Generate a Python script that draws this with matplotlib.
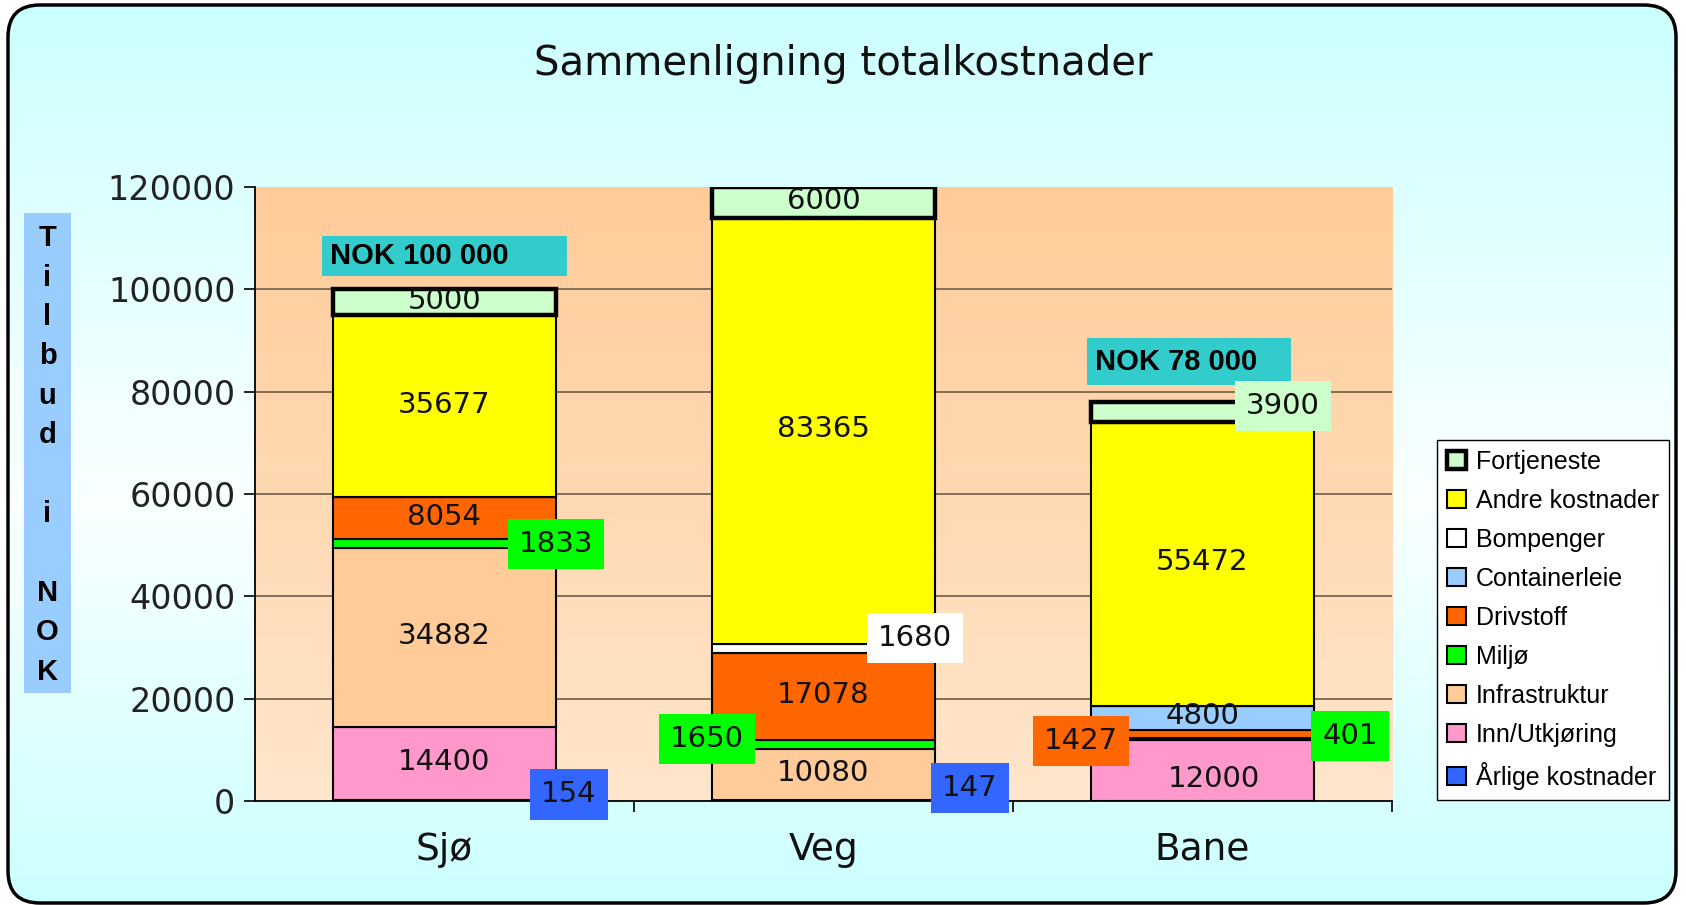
import matplotlib.pyplot as plt
import numpy as np
from matplotlib.colors import LinearSegmentedColormap
from matplotlib.patches import FancyBboxPatch, Rectangle

# data (NOK)
categories = ['Sjø', 'Veg', 'Bane']
series_names = ['Årlige kostnader', 'Inn/Utkjøring', 'Infrastruktur', 'Miljø', 'Drivstoff',
                'Containerleie', 'Bompenger', 'Andre kostnader', 'Fortjeneste']
arlige = [154, 147, 0]
inn_ut = [14400, 0, 12000]
infrastruktur = [34882, 10080, 0]
miljo = [1833, 1650, 401]
drivstoff = [8054, 17078, 1427]
containerleie = [0, 0, 4800]
bompenger = [0, 1680, 0]
andre = [35677, 83365, 55472]
fortjeneste = [5000, 6000, 3900]
offer_labels = ['NOK 100 000', None, 'NOK 78 000']
yticks = [0, 20000, 40000, 60000, 80000, 100000, 120000]

series_values = [arlige, inn_ut, infrastruktur, miljo, drivstoff,
                 containerleie, bompenger, andre, fortjeneste]
colors = ['#3366FF', '#FF99CC', '#FFCC99', '#00FF00', '#FF6600',
          '#99CCFF', '#FFFFFF', '#FFFF00', '#CCFFCC']

# label placement for small segments: (bar, series) -> (dx, dy, boxed)
label_place = {
    (0, 3): (0.294, -200, True),
    (0, 0): (0.328, 1200, True),
    (1, 6): (0.241, 2100, True),
    (1, 3): (-0.307, 1100, True),
    (1, 0): (0.387, 2470, True),
    (2, 8): (0.212, 1080, True),
    (2, 4): (-0.321, -1370, True),
    (2, 3): (0.389, 520, True),
    (2, 1): (0.03, -1600, False),
}

W, H = 1686, 905
fig = plt.figure(figsize=(W / 100, H / 100), dpi=100)
fig.patch.set_facecolor('white')

# background with rounded frame
bg = fig.add_axes([0, 0, 1, 1], zorder=-10)
bg.set_xlim(0, W)
bg.set_ylim(H, 0)
bg.axis('off')
bg_cmap = LinearSegmentedColormap.from_list(
    'bg', [(0, '#CCFFFF'), (0.55, '#FAFFFF'), (1, '#CCFFFF')])
frame = FancyBboxPatch((8, 5), 1668, 898, boxstyle='round,pad=0,rounding_size=32',
                       facecolor='none', edgecolor='black', linewidth=2.5, zorder=5)
grad = np.linspace(0, 1, 256).reshape(-1, 1)
im = bg.imshow(grad, cmap=bg_cmap, extent=(8, 1676, 903, 5), aspect='auto', zorder=0)
bg.add_patch(frame)
im.set_clip_path(frame)

# y label box
bg.add_patch(Rectangle((24, 213), 47, 480, facecolor='#99CCFF', edgecolor='none', zorder=2))
bg.text(47.5, 455, 'T\ni\nl\nb\nu\nd\n\ni\n\nN\nO\nK', ha='center', va='center',
        family='Liberation Sans', weight='bold', fontsize=21, linespacing=1.52, zorder=3)

ax = fig.add_axes([0.1512, 0.1149, 0.6744, 0.6785])
ax.set_facecolor('none')
area_cmap = LinearSegmentedColormap.from_list('area', ['#FFE6CC', '#FFCC99'])
ax.imshow(grad, cmap=area_cmap, origin='lower', extent=(0, 1, 0, 1),
          transform=ax.transAxes, aspect='auto', zorder=-1)

x = np.arange(len(categories))
bar_w = 0.59
ax.hlines(yticks[1:-1], -0.5, 2.5, colors='#7a6650', linewidth=1.3, zorder=1)

bottoms = np.zeros(len(categories))
for i, (name, vals) in enumerate(zip(series_names, series_values)):
    lw = 3.2 if name == 'Fortjeneste' else 1.5
    ax.bar(x, vals, width=bar_w, bottom=bottoms, color=colors[i], edgecolor='black',
           linewidth=lw, label=name, zorder=3)
    for j, v in enumerate(vals):
        if v == 0:
            continue
        cy = bottoms[j] + v / 2
        dx, dy, boxed = label_place.get((j, i), (0, 300, False))
        bbox = dict(boxstyle='square,pad=0.38', facecolor=colors[i], edgecolor='none') if boxed else None
        ax.text(x[j] + dx, cy + dy, str(v), ha='center', va='center', fontsize=21,
                color='#111111', bbox=bbox, zorder=6)
    bottoms += np.array(vals)

# offer boxes above the bars
box_w = [0.646, None, 0.538]
box_h = [7830, None, 9200]
box_dx = [0.0, None, -0.036]
box_gap = [6500, None, 7840]
for j, txt in enumerate(offer_labels):
    if txt is None:
        continue
    cx = x[j] + box_dx[j]
    cy = bottoms[j] + box_gap[j]
    ax.add_patch(Rectangle((cx - box_w[j] / 2, cy - box_h[j] / 2), box_w[j], box_h[j],
                           facecolor='#33CCCC', edgecolor='none', zorder=5, clip_on=False))
    ax.text(cx - box_w[j] / 2 + 0.022, cy, txt, ha='left', va='center',
            family='Liberation Sans', weight='bold', fontsize=21, zorder=6)

ax.set_xlim(-0.5, 2.5)
ax.set_ylim(0, 120000)
ax.set_yticks(yticks)
ax.set_yticklabels([str(t) for t in yticks], fontsize=24, color='#222222')
ax.set_xticks(x)
ax.set_xticklabels(categories, fontsize=27, color='#111111')
ax.set_xticks([0.5, 1.5, 2.5], minor=True)
ax.tick_params(axis='x', which='major', length=0, pad=22)
ax.tick_params(axis='x', which='minor', length=8, width=1.2, direction='out')
ax.tick_params(axis='y', length=8, width=1.2, pad=6)
for side in ['top', 'right']:
    ax.spines[side].set_visible(False)
for side in ['left', 'bottom']:
    ax.spines[side].set_linewidth(1.3)
    ax.spines[side].set_zorder(4)

fig.text(0.5, 0.929, 'Sammenligning totalkostnader', ha='center', va='center', fontsize=29,
         color='#111111')

handles, labels = ax.get_legend_handles_labels()
leg = fig.legend(handles[::-1], labels[::-1], loc='upper left', bbox_to_anchor=(0.8523, 0.5138),
                 frameon=True, fancybox=False, edgecolor='black', framealpha=1,
                 prop={'family': 'Liberation Sans', 'size': 18}, handlelength=0.75,
                 handleheight=0.75, handletextpad=0.4, labelspacing=0.6, borderpad=0.4,
                 borderaxespad=0)
leg.get_frame().set_linewidth(1.0)

fig.savefig('out.png', dpi=100)
